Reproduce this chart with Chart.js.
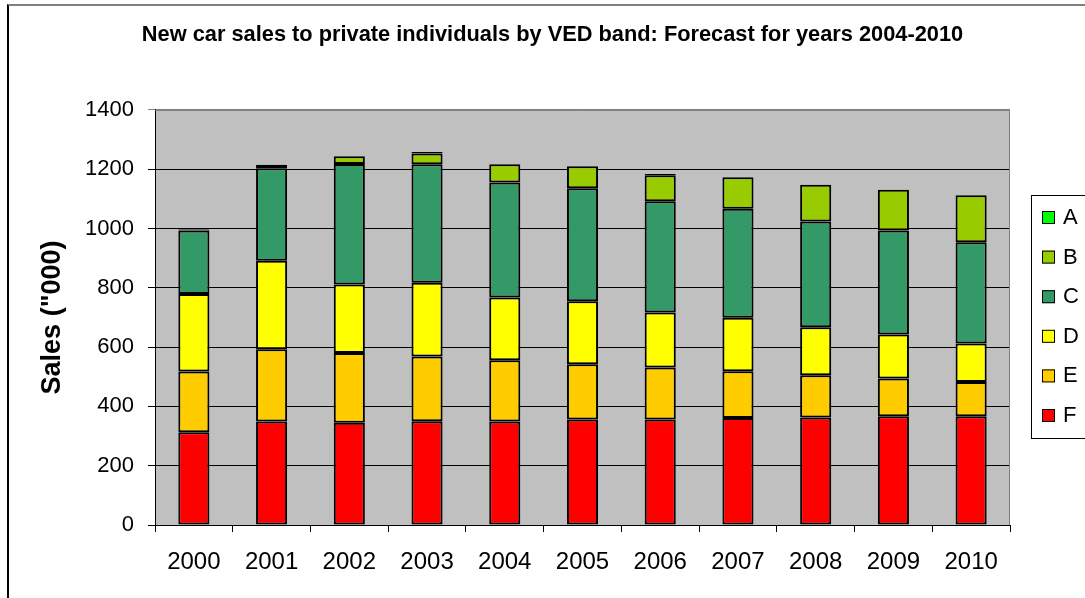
<!DOCTYPE html>
<html>
<head>
<meta charset="utf-8">
<script src="https://cdn.jsdelivr.net/npm/chart.js@4.4.1/dist/chart.umd.min.js"></script>
<style>
  html, body { margin: 0; padding: 0; background: #fff; overflow: hidden; }
  #frame {
    position: absolute; left: 7px; top: 4px; width: 1200px; height: 700px;
    border-left: 2px solid #000; border-top: 2px solid #808080;
  }
  #wrap { position: absolute; left: 20px; top: 0; width: 1065px; height: 598px; }
</style>
</head>
<body>
<div id="frame"></div>
<div id="wrap"><canvas id="vedChart"></canvas></div>
<script>
/* ════════════════════════════
   DATA  (sales, '000)
════════════════════════════ */
const YEARS  = ['2000','2001','2002','2003','2004','2005','2006','2007','2008','2009','2010'];
const BAND_F = [313, 349, 345, 350, 349, 356, 356, 361, 363, 367, 367];
const BAND_E = [205, 244, 235, 218, 207, 186, 175, 158, 142, 127, 115];
const BAND_D = [261, 298, 231, 249, 211, 213, 186, 180, 162, 149, 130];
const BAND_C = [214, 312, 407, 400, 388, 381, 375, 368, 357, 350, 342];
const BAND_B = [4, 12, 26, 36, 62, 74, 88, 106, 124, 138, 158];
const BAND_A = [2, 0, 0, 5, 0, 0, 4, 0, 0, 0, 0];
const Y_TICKS = [0, 200, 400, 600, 800, 1000, 1200, 1400];

const FONT = 'Arial, "Liberation Sans", sans-serif';

/* ════════════════════════════
   PLUGINS
════════════════════════════ */
// grey plot area + grey top/right edge
const plotBg = {
  id: 'plotBg',
  beforeDraw(chart) {
    const { ctx, chartArea: a } = chart;
    ctx.save();
    ctx.fillStyle = '#C0C0C0';
    ctx.fillRect(a.left, a.top, a.right - a.left, a.bottom - a.top);
    ctx.restore();
  },
  afterDatasetsDraw(chart) {
    const { ctx, chartArea: a } = chart;
    ctx.save();
    ctx.strokeStyle = '#808080';
    ctx.lineWidth = 1;
    ctx.beginPath();
    ctx.moveTo(a.left, a.top + 0.5);
    ctx.lineTo(a.right - 0.5, a.top + 0.5);
    ctx.lineTo(a.right - 0.5, a.bottom);
    ctx.stroke();
    ctx.restore();
  }
};

// boxed legend on the right, top band first
const boxLegend = {
  id: 'boxLegend',
  afterDraw(chart) {
    const { ctx } = chart;
    const sets = chart.data.datasets.slice().reverse();
    const x0 = 1011, y0 = 195, y1 = 438;
    ctx.save();
    ctx.strokeStyle = '#000';
    ctx.lineWidth = 1;
    ctx.strokeRect(x0 + 0.5, y0 + 0.5, 100, y1 - y0);
    ctx.font = '22px ' + FONT;
    ctx.textBaseline = 'middle';
    ctx.textAlign = 'left';
    sets.forEach((ds, i) => {
      const cy = 217 + i * 39.6;
      ctx.fillStyle = ds.backgroundColor;
      ctx.fillRect(x0 + 11, cy - 6, 13, 13);
      ctx.strokeStyle = '#000';
      ctx.strokeRect(x0 + 11.5, cy - 5.5, 12, 12);
      ctx.fillStyle = '#000';
      ctx.fillText(ds.label, x0 + 32, cy + 1);
    });
    ctx.restore();
  }
};

/* ════════════════════════════
   CHART
════════════════════════════ */
function band(label, data, color) {
  return {
    label, data,
    backgroundColor: color,
    borderColor: '#000',
    borderWidth: 2,
    borderSkipped: false,
    inflateAmount: 0,
    barPercentage: 0.4,
    categoryPercentage: 1.0,
  };
}

new Chart(document.getElementById('vedChart'), {
  type: 'bar',
  data: {
    labels: YEARS,
    datasets: [
      band('F', BAND_F, '#FF0000'),
      band('E', BAND_E, '#FFCC00'),
      band('D', BAND_D, '#FFFF00'),
      band('C', BAND_C, '#339966'),
      band('B', BAND_B, '#99CC00'),
      band('A', BAND_A, '#00FF00'),
    ]
  },
  options: {
    responsive: true, maintainAspectRatio: false,
    animation: false,
    layout: { padding: 0 },
    plugins: {
      legend: { display: false },
      tooltip: { enabled: false },
      title: {
        display: true,
        text: 'New car sales to private individuals by VED band: Forecast for years 2004-2010',
        color: '#000',
        font: { family: FONT, size: 21.8, weight: 'bold' },
        padding: { top: 22, bottom: 61.8 }
      }
    },
    scales: {
      x: {
        stacked: true,
        grid: { offset: true, drawOnChartArea: false, drawTicks: true, tickLength: 7, color: '#000' },
        border: { color: '#000', width: 1 },
        ticks: { color: '#000', font: { family: FONT, size: 24 }, padding: 16, maxRotation: 0 },
        afterFit(scale) { scale.height = 73; }
      },
      y: {
        stacked: true,
        min: 0, max: 1400,
        afterBuildTicks(scale) { scale.ticks = Y_TICKS.map(v => ({ value: v })); },
        grid: {
          color: ctx => (ctx.tick && ctx.tick.value === 1400 ? '#808080' : '#000'),
          lineWidth: 1, tickLength: 7, drawTicks: true
        },
        border: { color: '#000', width: 1 },
        ticks: {
          color: '#000', font: { family: FONT, size: 22 }, padding: 14,
          callback: v => String(v)
        },
        title: {
          display: true,
          text: 'Sales ("000)',
          color: '#000',
          font: { family: FONT, size: 27, weight: 'bold' },
          padding: { top: 16, bottom: 0 }
        },
        afterFit(scale) { scale.width = 135; }
      },
      // empty right-hand strip kept free for the legend box
      legendGap: {
        position: 'right',
        display: true,
        grid: { display: false, drawTicks: false },
        border: { display: false },
        ticks: { display: false },
        afterFit(scale) { scale.width = 75; }
      }
    }
  },
  plugins: [plotBg, boxLegend]
});
</script>
</body>
</html>
